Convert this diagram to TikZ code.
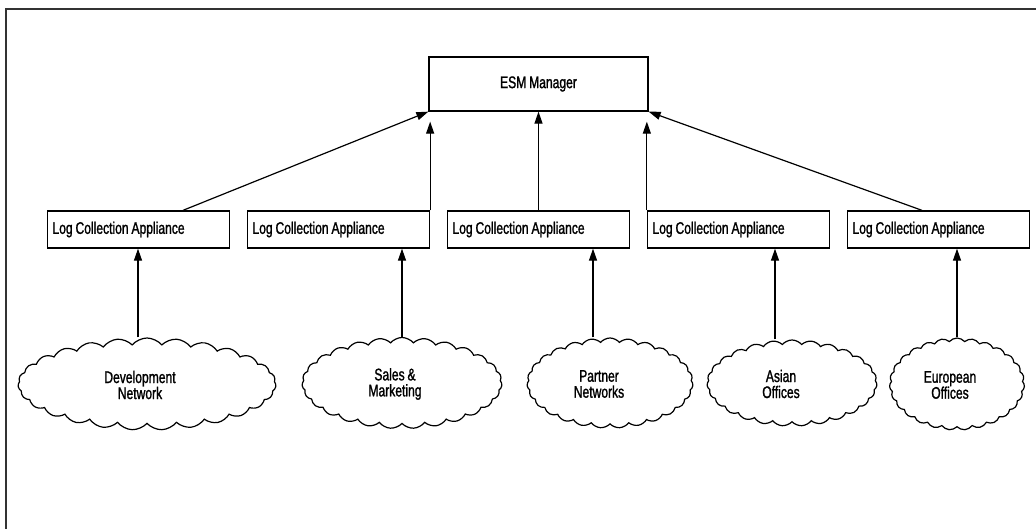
\documentclass[tikz,border=0pt]{standalone}
\usepackage{fontspec}
\setmainfont{Liberation Sans}[FakeStretch=0.72,FakeBold=1.3,WordSpace=0.85]
\usetikzlibrary{shapes.symbols,arrows.meta}
\tikzset{
  box/.style={draw, line width=1.3pt, minimum height=37pt, inner xsep=5pt, inner ysep=0pt,
    font=\fontsize{16.8}{16}\selectfont},
  lca/.style={box, text width=172pt, align=flush left},
  esmbox/.style={box, minimum width=219pt, minimum height=54pt},
  cloudy/.style={draw, line width=1.2pt, shape=cloud, cloud puffs=27, cloud puff arc=100,
    cloud ignores aspect, inner sep=0pt},
  lbl/.style={align=flush center, font=\fontsize{16.8}{16}\selectfont, inner sep=0pt},
  arr/.style={line width=1.2pt, -{Triangle[length=12pt,width=8pt]}},
  frame/.style={line width=1.5pt, draw=black!80}
}
\begin{document}
\begin{tikzpicture}[x=1pt,y=-1pt]
\useasboundingbox (0,0) rectangle (1036,529);
\coordinate (ftl) at (6,9);
\coordinate (ftr) at (1036,9);
\coordinate (fbl) at (6,529);
\draw[frame] (fbl) -- (ftl) -- (ftr);

\node[esmbox] (esm) at (538.5,84) {ESM Manager};

\node[lca] (b1) at (138.5,229.5) {Log Collection Appliance};
\node[lca] (b2) at (338.5,229.5) {Log Collection Appliance};
\node[lca] (b3) at (538.5,229.5) {Log Collection Appliance};
\node[lca] (b4) at (738.5,229.5) {Log Collection Appliance};
\node[lca] (b5) at (938.5,229.5) {Log Collection Appliance};

\node[cloudy, minimum width=258pt, minimum height=92pt] (c1) at (147,384) {};
\node[cloudy, minimum width=200pt, minimum height=91pt] (c2) at (402,383) {};
\node[cloudy, minimum width=166pt, minimum height=90pt] (c3) at (610,383) {};
\node[cloudy, minimum width=170pt, minimum height=86pt] (c4) at (792,383) {};
\node[cloudy, minimum width=135pt, minimum height=92pt] (c5) at (957,384) {};

\node[lbl] (t1) at (140,385) {Development\\Network};
\node[lbl] (t2) at (395,384) {Sales \&\\Marketing};
\node[lbl] (t3) at (599,384) {Partner\\Networks};
\node[lbl] (t4) at (781,384) {Asian\\Offices};
\node[lbl] (t5) at (950,385) {European\\Offices};

% collectors to ESM
\draw[arr] ([xshift=44.5pt]b1.north) -- (esm.south west);
\draw[arr] (b2.north east) -- ([yshift=-10pt]b2.north east |- esm.south);
\draw[arr] (b3.north) -- (esm.south);
\draw[arr] (b4.north west) -- ([yshift=-10pt]b4.north west |- esm.south);
\draw[arr] ([xshift=-16.5pt]b5.north) -- (esm.south east);

% networks to collectors
\draw[arr] ([xshift=-0.5pt]b1.south |- c1.north) -- ([xshift=-0.5pt]b1.south);
\draw[arr] (c2.north) -- (c2.north |- b2.south);
\draw[arr] ([xshift=-17pt]c3.north) -- ([xshift=-17pt]c3.north |- b3.south);
\draw[arr] ([xshift=-17pt]c4.north) -- ([xshift=-17pt]c4.north |- b4.south);
\draw[arr] (c5.north) -- (c5.north |- b5.south);
\end{tikzpicture}
\end{document}
